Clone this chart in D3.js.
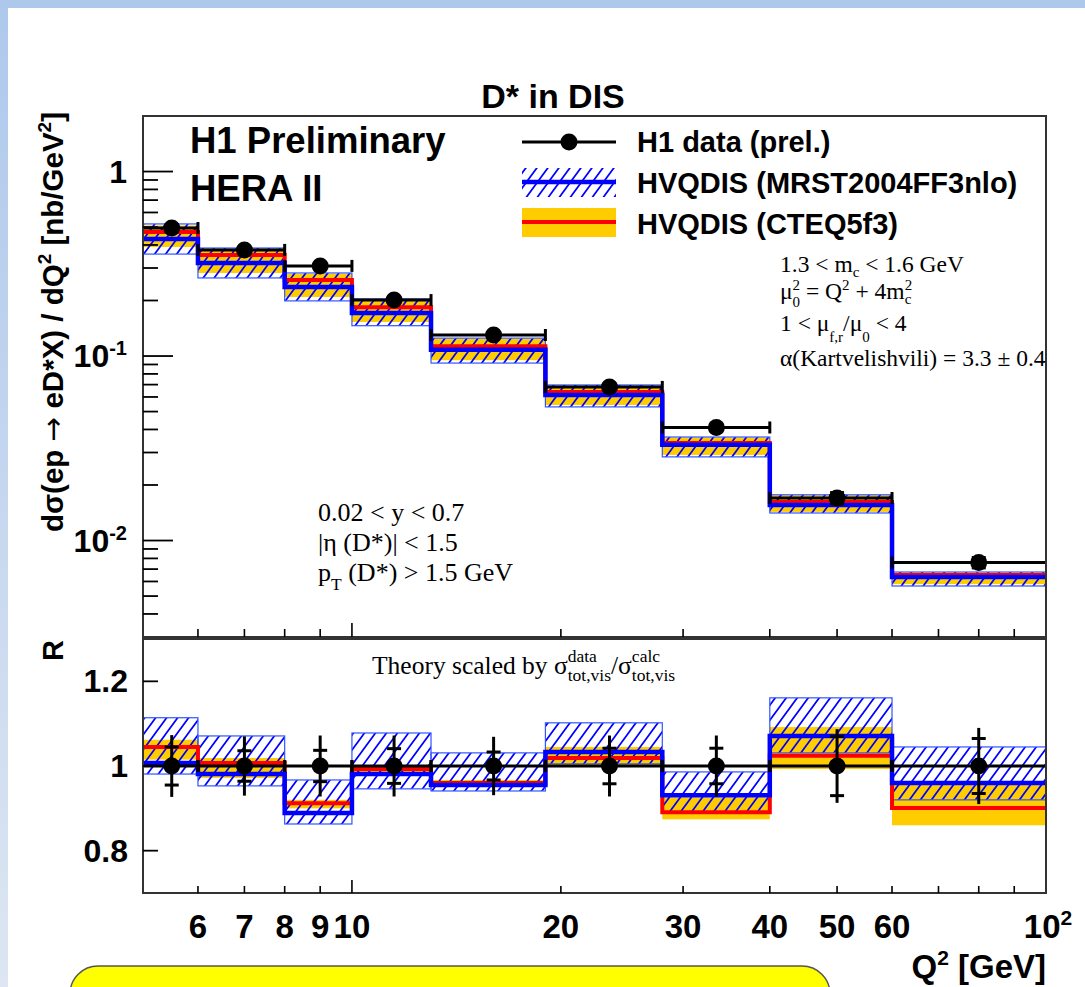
<!DOCTYPE html>
<html><head><meta charset="utf-8">
<script src="https://cdn.jsdelivr.net/npm/d3@7"></script>
<style>body{margin:0;background:#fff;} svg{display:block} text{white-space:pre}</style>
</head><body>
<svg id="c" width="1085" height="987"></svg>
<script>
// ---------------- data ----------------
const binEdges = [5, 6, 8, 10, 13, 19, 28, 40, 60, 100];
const pointQ2 = [5.5, 7, 9, 11.5, 16, 23.5, 33.5, 50, 80];
const dataXsec = [0.494, 0.376, 0.308, 0.201, 0.130, 0.068, 0.0410, 0.0170, 0.00760];
const dataStatRel = [0.045, 0.036, 0.037, 0.041, 0.033, 0.042, 0.042, 0.070, 0.065];
const dataTotRel = [0.073, 0.070, 0.072, 0.072, 0.069, 0.072, 0.072, 0.087, 0.090];
const dataRatio = [1, 1, 1, 1, 1, 1, 1, 1, 1];

const mrstCentral = [0.431, 0.319, 0.237, 0.171, 0.108, 0.0615, 0.0330, 0.0156, 0.00634];
const mrstLow = [0.357, 0.265, 0.199, 0.146, 0.0916, 0.0530, 0.0284, 0.0141, 0.00567];
const mrstHigh = [0.520, 0.385, 0.282, 0.204, 0.125, 0.0697, 0.0364, 0.0177, 0.00675];
const cteqCentral = [0.470, 0.353, 0.258, 0.184, 0.113, 0.0638, 0.0338, 0.0162, 0.00650];
const cteqLow = [0.390, 0.282, 0.209, 0.153, 0.095, 0.0543, 0.0291, 0.0143, 0.00580];
const cteqHigh = [0.510, 0.380, 0.279, 0.202, 0.124, 0.0690, 0.0362, 0.0176, 0.00670];

const mrstRatioC = [1.007, 0.981, 0.889, 0.981, 0.955, 1.033, 0.931, 1.071, 0.960];
const mrstRatioLo = [0.981, 0.953, 0.863, 0.946, 0.941, 1.005, 0.890, 1.031, 0.920];
const mrstRatioHi = [1.114, 1.071, 0.967, 1.078, 1.031, 1.102, 0.986, 1.161, 1.045];
const cteqRatioC = [1.045, 1.007, 0.912, 0.993, 0.960, 1.019, 0.891, 1.024, 0.901];
const cteqRatioLo = [1.015, 0.972, 0.900, 0.984, 0.953, 1.002, 0.874, 0.993, 0.860];
const cteqRatioHi = [1.062, 1.019, 0.920, 1.002, 0.967, 1.045, 0.926, 1.092, 0.955];

const xLabelTicks = [6, 7, 8, 9, 10, 20, 30, 40, 50, 60];
const xMinorTicks = [6, 7, 8, 9, 20, 30, 40, 50, 60, 70, 80, 90];
const xMajorTicks = [10];
const yTopMajor = [1, 0.1, 0.01];
const yTopLabels = [["1", ""], ["10", "-1"], ["10", "-2"]];
const yRatioTicks = [0.8, 1.0, 1.2];
const yRatioLabels = ["0.8", "1", "1.2"];

// ---------------- setup ----------------
const svg = d3.select("#c");
const SANS = "'Liberation Sans', Arial, Helvetica, sans-serif";
const SERIF = "'Liberation Serif', 'Times New Roman', serif";
const L = 143, R = 1046, T1 = 116, B1 = 637, T2 = 639, B2 = 893;

const x = d3.scaleLog().domain([5, 100]).range([L, R]);
const yTop = d3.scaleLog().domain([0.003, 2]).range([B1, T1]);
const yR = d3.scaleLinear().domain([0.7, 1.3]).range([B2, T2]);

const defs = svg.append("defs");
const grad = defs.append("linearGradient").attr("id", "side").attr("x1", 0).attr("y1", 0).attr("x2", 0).attr("y2", 1);
grad.append("stop").attr("offset", "0%").attr("stop-color", "#aec8ec");
grad.append("stop").attr("offset", "100%").attr("stop-color", "#dde6f2");
const pat = defs.append("pattern").attr("id", "hatch").attr("patternUnits", "userSpaceOnUse")
  .attr("width", 11).attr("height", 15);
pat.append("path").attr("d", "M0,15 L11,0 M-1.1,1.5 L1.1,-1.5 M9.9,16.5 L12.1,13.5")
  .attr("stroke", "#0000ff").attr("stroke-width", 1.7).attr("fill", "none");
defs.append("clipPath").attr("id", "clipTop").append("rect").attr("x", L).attr("y", T1).attr("width", R - L).attr("height", B1 - T1);
defs.append("clipPath").attr("id", "clipBot").append("rect").attr("x", L).attr("y", T2).attr("width", R - L).attr("height", B2 - T2);

// slide background
svg.append("rect").attr("x", 0).attr("y", 0).attr("width", 1085).attr("height", 987).attr("fill", "#fff");
svg.append("rect").attr("x", 0).attr("y", 0).attr("width", 8).attr("height", 987).attr("fill", "url(#side)");
svg.append("rect").attr("x", 0).attr("y", 0).attr("width", 1085).attr("height", 8).attr("fill", "#aec8ec");

// yellow box
svg.append("rect").attr("x", 70).attr("y", 966).attr("width", 760).attr("height", 80).attr("rx", 28)
  .attr("fill", "#ffff00").attr("stroke", "#555").attr("stroke-width", 1.5);

// rich text helper
function rich(x0, y0, segs, size, family, weight) {
  let cx = x0;
  segs.forEach(s => {
    if (s.stack) {
      let w = 0;
      s.stack.forEach(p => {
        const t = svg.append("text").attr("x", cx).attr("y", y0 + p.dy).attr("font-family", family)
          .attr("font-size", p.size).attr("font-weight", weight || "normal").attr("fill", "#000").text(p.t);
        w = Math.max(w, t.node().getComputedTextLength());
      });
      cx += w;
    } else {
      const t = svg.append("text").attr("x", cx).attr("y", y0 + (s.dy || 0)).attr("font-family", family)
        .attr("font-size", s.size || size).attr("font-weight", weight || "normal").attr("fill", "#000").text(s.t);
      cx += t.node().getComputedTextLength() + (s.gap || 0);
    }
  });
}

// step path helper
function stepPath(scaleY, vals) {
  const pts = vals.map((v, i) => [binEdges[i], v]);
  pts.push([binEdges[binEdges.length - 1], vals[vals.length - 1]]);
  return d3.line().x(d => x(d[0])).y(d => scaleY(d[1])).curve(d3.curveStepAfter)(pts);
}

function drawPanel(clipId, scaleY, cLo, cHi, cC, mLo, mHi, mC, vals, statAbs, totAbs) {
  const g = svg.append("g").attr("clip-path", `url(#${clipId})`);
  const idx = d3.range(vals.length);
  g.selectAll(null).data(idx).enter().append("rect")
    .attr("x", i => x(binEdges[i])).attr("width", i => x(binEdges[i + 1]) - x(binEdges[i]))
    .attr("y", i => scaleY(cHi[i])).attr("height", i => scaleY(cLo[i]) - scaleY(cHi[i]))
    .attr("fill", "#ffcc00");
  g.selectAll(null).data(idx).enter().append("rect")
    .attr("x", i => x(binEdges[i])).attr("width", i => x(binEdges[i + 1]) - x(binEdges[i]))
    .attr("y", i => scaleY(mHi[i])).attr("height", i => scaleY(mLo[i]) - scaleY(mHi[i]))
    .attr("fill", "url(#hatch)").attr("stroke", "#3355ff").attr("stroke-width", 1.2);
  g.append("path").attr("d", stepPath(scaleY, cC)).attr("fill", "none").attr("stroke", "#ff0000").attr("stroke-width", 4);
  g.append("path").attr("d", stepPath(scaleY, mC)).attr("fill", "none").attr("stroke", "#0000ff").attr("stroke-width", 4.5);
  const d = svg.append("g").attr("stroke", "#000").attr("stroke-width", 3);
  idx.forEach(i => {
    const xl = x(binEdges[i]), xr = x(binEdges[i + 1]), xc = x(pointQ2[i]), yc = scaleY(vals[i]);
    d.append("line").attr("x1", xl).attr("x2", xr).attr("y1", yc).attr("y2", yc);
    [xl, xr].forEach(xe => { if (xe > L + 2 && xe < R - 1) d.append("line").attr("x1", xe).attr("x2", xe).attr("y1", yc - 6).attr("y2", yc + 6); });
    d.append("line").attr("x1", xc).attr("x2", xc).attr("y1", scaleY(vals[i] + totAbs[i])).attr("y2", scaleY(vals[i] - totAbs[i]));
    [vals[i] + statAbs[i], vals[i] - statAbs[i]].forEach(v => d.append("line").attr("x1", xc - 7).attr("x2", xc + 7).attr("y1", scaleY(v)).attr("y2", scaleY(v)));
    d.append("circle").attr("cx", xc).attr("cy", yc).attr("r", 8.5).attr("fill", "#000").attr("stroke", "none");
  });
}

drawPanel("clipTop", yTop, cteqLow, cteqHigh, cteqCentral, mrstLow, mrstHigh, mrstCentral,
  dataXsec, dataXsec.map((v, i) => v * dataStatRel[i]), dataXsec.map((v, i) => v * dataTotRel[i]));
drawPanel("clipBot", yR, cteqRatioLo, cteqRatioHi, cteqRatioC, mrstRatioLo, mrstRatioHi, mrstRatioC,
  dataRatio, dataStatRel, dataTotRel);

// ---------------- frames & axes ----------------
const ax = svg.append("g").attr("stroke", "#000").attr("stroke-width", 2).attr("fill", "none");
ax.append("rect").attr("x", L).attr("y", T1).attr("width", R - L).attr("height", B1 - T1).attr("stroke", "#333");
ax.append("rect").attr("x", L).attr("y", T2).attr("width", R - L).attr("height", B2 - T2).attr("stroke", "#333");

[[B1, 8, 14], [B2, 7, 13]].forEach(([yb, lmin, lmaj]) => {
  xMinorTicks.forEach(v => ax.append("line").attr("x1", x(v)).attr("x2", x(v)).attr("y1", yb).attr("y2", yb - lmin).attr("stroke-width", 1.6));
  xMajorTicks.forEach(v => ax.append("line").attr("x1", x(v)).attr("x2", x(v)).attr("y1", yb).attr("y2", yb - lmaj).attr("stroke-width", 1.6));
});
const minorY = [];
[0.001, 0.01, 0.1, 1].forEach(dec => d3.range(2, 10).forEach(k => { const v = dec * k; if (v > 0.003 && v < 2) minorY.push(v); }));
minorY.forEach(v => ax.append("line").attr("x1", L).attr("x2", L + 15).attr("y1", yTop(v)).attr("y2", yTop(v)).attr("stroke-width", 1.8));
yTopMajor.forEach(v => ax.append("line").attr("x1", L).attr("x2", L + 30).attr("y1", yTop(v)).attr("y2", yTop(v)).attr("stroke-width", 1.8));
yRatioTicks.forEach(v => ax.append("line").attr("x1", L).attr("x2", L + 15).attr("y1", yR(v)).attr("y2", yR(v)).attr("stroke-width", 1.8));

// tick labels
const TL = 32;
yTopMajor.forEach((v, i) => {
  const t = svg.append("text").attr("x", 127).attr("y", yTop(v) + 11).attr("text-anchor", "end")
    .attr("font-family", SANS).attr("font-weight", "bold").attr("font-size", TL);
  t.append("tspan").text(yTopLabels[i][0]);
  if (yTopLabels[i][1]) t.append("tspan").attr("dy", -12).attr("font-size", 20).text(yTopLabels[i][1]);
});
yRatioTicks.forEach((v, i) => {
  svg.append("text").attr("x", 128).attr("y", yR(v) + 11).attr("text-anchor", "end")
    .attr("font-family", SANS).attr("font-weight", "bold").attr("font-size", TL).text(yRatioLabels[i]);
});
xLabelTicks.forEach(v => {
  svg.append("text").attr("x", x(v)).attr("y", 938).attr("text-anchor", "middle")
    .attr("font-family", SANS).attr("font-weight", "bold").attr("font-size", 33).text(String(v));
});
{
  const t = svg.append("text").attr("x", x(100) + 2).attr("y", 938).attr("text-anchor", "middle")
    .attr("font-family", SANS).attr("font-weight", "bold").attr("font-size", 33);
  t.append("tspan").text("10");
  t.append("tspan").attr("dy", -13).attr("font-size", 21).text("2");
}

// axis titles
{
  const t = svg.append("text").attr("x", R).attr("y", 978).attr("text-anchor", "end")
    .attr("font-family", SANS).attr("font-weight", "bold").attr("font-size", 33);
  t.append("tspan").text("Q");
  t.append("tspan").attr("dy", -13).attr("font-size", 21).text("2");
  t.append("tspan").attr("dy", 13).text(" [GeV]");
}
{
  const t = svg.append("text").attr("transform", "translate(63,112) rotate(-90)").attr("text-anchor", "end")
    .attr("font-family", SANS).attr("font-weight", "bold").attr("font-size", 29.5);
  t.append("tspan").text("d\u03c3(ep ");
  t.append("tspan").attr("font-family", "'DejaVu Sans', sans-serif").attr("font-weight", "normal").text("\u2192");
  t.append("tspan").text(" eD*X) / dQ");
  t.append("tspan").attr("dy", -12).attr("font-size", 19).text("2");
  t.append("tspan").attr("dy", 12).text(" [nb/GeV");
  t.append("tspan").attr("dy", -12).attr("font-size", 19).text("2");
  t.append("tspan").attr("dy", 12).text("]");
}
svg.append("text").attr("transform", "translate(63,640) rotate(-90)").attr("text-anchor", "end")
  .attr("font-family", SANS).attr("font-weight", "bold").attr("font-size", 29).text("R");

// title
svg.append("text").attr("x", 553).attr("y", 108).attr("text-anchor", "middle")
  .attr("font-family", SANS).attr("font-weight", "bold").attr("font-size", 34).text("D* in DIS");

// H1 Preliminary
svg.append("text").attr("x", 190).attr("y", 153).attr("font-family", SANS).attr("font-weight", "bold").attr("font-size", 36.5).text("H1 Preliminary");
svg.append("text").attr("x", 190).attr("y", 201).attr("font-family", SANS).attr("font-weight", "bold").attr("font-size", 36.5).text("HERA II");

// legend
const leg = svg.append("g");
leg.append("line").attr("x1", 522).attr("x2", 616).attr("y1", 142).attr("y2", 142).attr("stroke", "#000").attr("stroke-width", 3);
leg.append("circle").attr("cx", 569).attr("cy", 142).attr("r", 8.5).attr("fill", "#000");
leg.append("rect").attr("x", 522).attr("y", 168).attr("width", 94).attr("height", 29).attr("fill", "url(#hatch)");
leg.append("line").attr("x1", 522).attr("x2", 616).attr("y1", 182).attr("y2", 182).attr("stroke", "#0000ff").attr("stroke-width", 4.5);
leg.append("rect").attr("x", 522).attr("y", 208).attr("width", 94).attr("height", 29).attr("fill", "#ffcc00");
leg.append("line").attr("x1", 522).attr("x2", 616).attr("y1", 222).attr("y2", 222).attr("stroke", "#ff0000").attr("stroke-width", 4);
const legendLabels = ["H1 data (prel.)", "HVQDIS (MRST2004FF3nlo)", "HVQDIS (CTEQ5f3)"];
[152, 193, 234].forEach((yy, i) => leg.append("text").attr("x", 637).attr("y", yy).attr("font-family", SANS)
  .attr("font-weight", "bold").attr("font-size", 29).text(legendLabels[i]));

// annotations (serif)
const FS = 23.5, SS = 15;
rich(780, 272, [{t: "1.3 < m"}, {t: "c", size: SS, dy: 5}, {t: " < 1.6 GeV"}], FS, SERIF);
rich(780, 299, [{t: "\u03bc"}, {stack: [{t: "2", size: SS, dy: -9}, {t: "0", size: SS, dy: 8}]}, {t: " = Q"}, {t: "2", size: SS, dy: -9}, {t: " + 4m"}, {stack: [{t: "2", size: SS, dy: -9}, {t: "c", size: SS, dy: 5}]}], FS, SERIF);
rich(780, 331, [{t: "1 < \u03bc"}, {t: "f,r", size: SS, dy: 11}, {t: "/\u03bc"}, {t: "0", size: SS, dy: 11}, {t: " < 4"}], FS, SERIF);
rich(780, 366, [{t: "\u03b1(Kartvelishvili) = 3.3 \u00b1 0.4"}], FS, SERIF);

const FL = 26, SL = 17.5;
rich(318, 521, [{t: "0.02 < y < 0.7"}], FL, SERIF);
rich(318, 551, [{t: "|\u03b7 (D*)| < 1.5"}], FL, SERIF);
rich(318, 581, [{t: "p"}, {t: "T", size: SL, dy: 9}, {t: " (D*) > 1.5 GeV"}], FL, SERIF);

rich(372, 674, [{t: "Theory scaled by \u03c3"}, {stack: [{t: "data", size: 17.5, dy: -12}, {t: "tot,vis", size: 17.5, dy: 7}]}, {t: "/\u03c3"}, {stack: [{t: "calc", size: 17.5, dy: -12}, {t: "tot,vis", size: 17.5, dy: 7}]}], 25.5, SERIF);
</script>
</body></html>
